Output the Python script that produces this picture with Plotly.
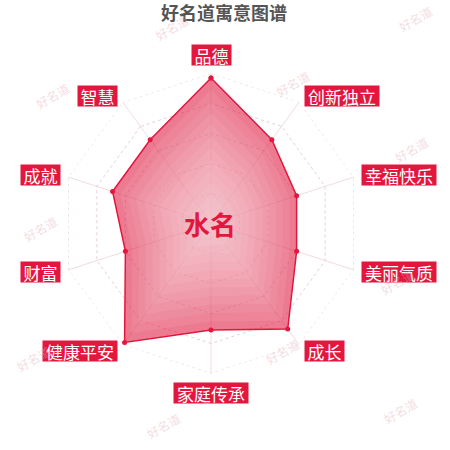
import math
import plotly.graph_objects as go

# 名字 + 各维度得分 (0-100)
name = "水名"
dims = ["品德", "创新独立", "幸福快乐", "美丽气质", "成长", "家庭传承", "健康平安", "财富", "成就", "智慧"]
scores = [97, 69, 60, 60, 87, 71, 98, 60, 69, 69]
max_score = 100
title = "好名道寓意图谱"
watermark = "好名道"

W = H = 450
cx, cy, R = 211, 223.5, 150   # 雷达中心和半径(像素)
red = "#e3173e"
font = "Noto Sans CJK SC"

theta = dims + dims[:1]
r = scores + scores[:1]

fig = go.Figure()

# 最外圈(点线)
fig.add_trace(go.Scatterpolar(r=[max_score] * len(theta), theta=theta, mode="lines",
                              line=dict(color="#e8cfd5", width=1, dash="dot"),
                              hoverinfo="skip"))
# 底色
fig.add_trace(go.Scatterpolar(r=r, theta=theta, mode="lines", fill="toself",
                              fillcolor="rgba(222,22,62,0.57)", line=dict(width=0),
                              hoverinfo="skip"))
# 往中心变浅, 模拟径向渐变
for k in [0.92, 0.84, 0.76, 0.68, 0.6, 0.52, 0.44, 0.36, 0.28, 0.2, 0.12]:
    fig.add_trace(go.Scatterpolar(r=[v * k for v in r], theta=theta, mode="lines", fill="toself",
                                  fillcolor="rgba(255,255,255,0.07)", line=dict(width=0),
                                  hoverinfo="skip"))
# 边线和点
fig.add_trace(go.Scatterpolar(r=r, theta=theta, mode="lines+markers",
                              line=dict(color=red, width=1.5),
                              marker=dict(size=5, color=red)))

annotations = []

# 维度标签(红底白字)
for i, lab in enumerate(dims):
    a = 2 * math.pi * i / len(dims)
    sx, sy = math.sin(a), math.cos(a)
    px = cx + 158 * sx
    py = cy - 158 * sy
    if sx > 0.01:
        xa = "left"
    elif sx < -0.01:
        xa = "right"
    else:
        xa = "center"
    if abs(sx) < 0.01:
        ya = "bottom" if sy > 0 else "top"
    else:
        ya = "middle"
    annotations.append(dict(
        text=lab, x=px / W, y=1 - py / H, xref="paper", yref="paper",
        xanchor=xa, yanchor=ya, showarrow=False,
        bgcolor=red, borderpad=0, width=17.5 * len(lab) + 4, height=20,
        font=dict(family=font, size=17, color="white"),
    ))

# 标题
annotations.append(dict(
    text="<b>" + title + "</b>", x=224 / W, y=1, xref="paper", yref="paper",
    xanchor="center", yanchor="top", showarrow=False, height=20,
    font=dict(family=font, size=18, color="#555555"),
))

# 中间的名字
annotations.append(dict(
    text="<b>" + name + "</b>", x=210 / W, y=1 - 223 / H, xref="paper", yref="paper",
    xanchor="center", yanchor="middle", showarrow=False,
    font=dict(family=font, size=26, color=red),
))

# 水印
wm_pos = [(172, 28), (415, 18), (52, 95), (293, 84), (411, 149), (40, 228),
          (397, 281), (33, 358), (282, 351), (163, 425), (400, 410)]
for x, y in wm_pos:
    annotations.append(dict(
        text=watermark, x=x / W, y=1 - y / H, xref="paper", yref="paper",
        xanchor="center", yanchor="middle", showarrow=False, textangle=-30,
        font=dict(family=font, size=12, color="rgba(228,175,186,0.45)"),
    ))

fig.update_layout(
    width=W, height=H,
    margin=dict(l=0, r=0, t=0, b=0),
    paper_bgcolor="white",
    showlegend=False,
    annotations=annotations,
    polar=dict(
        domain=dict(x=[(cx - R) / W, (cx + R) / W], y=[1 - (cy + R) / H, 1 - (cy - R) / H]),
        bgcolor="rgba(0,0,0,0)",
        gridshape="linear",
        radialaxis=dict(range=[0, max_score], tickvals=[20, 40, 60, 80],
                        showticklabels=False, ticks="", showline=False,
                        gridcolor="#e8cfd5", griddash="dot", gridwidth=1),
        angularaxis=dict(direction="clockwise", rotation=90, showticklabels=False,
                         ticks="", showline=False, gridcolor="#f0dce1", gridwidth=1),
    ),
)

fig.write_html("out.html", config={"displayModeBar": False},
               post_script="document.body.style.margin='0px';")
